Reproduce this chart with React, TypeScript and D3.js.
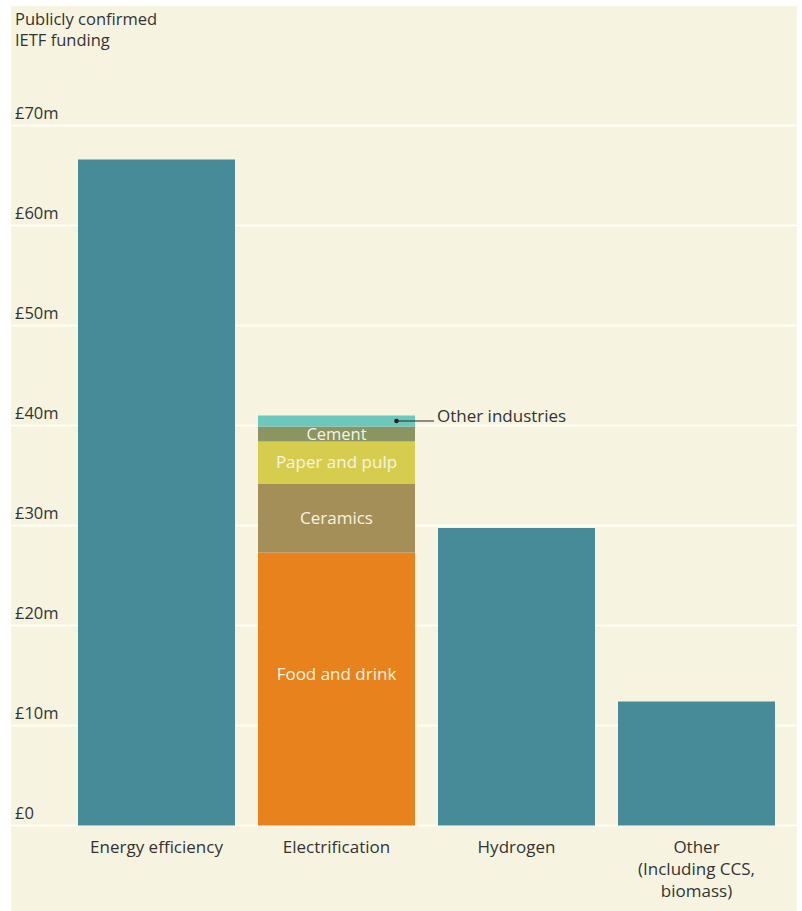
import React from "react";
import * as d3 from "d3";

const categories = ["Energy efficiency", "Electrification", "Hydrogen", "Other"];
const categoryLines = [["Energy efficiency"], ["Electrification"], ["Hydrogen"], ["Other", "(Including CCS,", "biomass)"]];
const singleValues = [66.6, null, 29.75, 12.4];
const segmentNames = ["Food and drink", "Ceramics", "Paper and pulp", "Cement", "Other industries"];
const segmentValues = [27.3, 6.9, 4.2, 1.5, 1.1];
const segmentColors = ["#e8821d", "#a48f59", "#d6cd4f", "#8a9563", "#6cc8bd"];
const tickValues = [0, 10, 20, 30, 40, 50, 60, 70];
const tickLabels = ["£0", "£10m", "£20m", "£30m", "£40m", "£50m", "£60m", "£70m"];

const W = 802;
const H = 911;
const FONT = "'Open Sans', 'Noto Sans', sans-serif";
const TEAL = "#478b99";
const BG = "#f6f4e1";
const FS = 17;

export default function App() {
  React.useEffect(() => {
    document.body.style.margin = "0";
  }, []);
  const y = d3.scaleLinear().domain([0, 70]).range([825.5, 125.5]);
  const x = d3.scaleBand<string>().domain(categories).range([66.5, 786.5]).paddingInner(23 / 180).paddingOuter(23 / 360);
  const bw = x.bandwidth();

  const stacked: { name: string; y0: number; y1: number; color: string }[] = [];
  let acc = 0;
  segmentValues.forEach((v, i) => {
    stacked.push({ name: segmentNames[i], y0: acc, y1: acc + v, color: segmentColors[i] });
    acc += v;
  });

  const elecX = x("Electrification")!;
  const elecC = elecX + bw / 2;

  return (
    <svg width={W} height={H} style={{ display: "block" }} fontFamily={FONT}>
      <rect x={11} y={6} width={786} height={905} fill={BG} />
      {tickValues.map((t, i) => (
        <g key={t}>
          <line x1={11} x2={W} y1={y(t)} y2={y(t)} stroke="#ffffff" strokeWidth={1.5} />
          <text x={15} y={y(t) - 7} fontSize={16.5} fill="#333">{tickLabels[i]}</text>
        </g>
      ))}
      <text x={15} y={25} fontSize={16.5} fill="#333">Publicly confirmed</text>
      <text x={15} y={46} fontSize={16.5} fill="#333">IETF funding</text>
      {categories.map((c, i) =>
        singleValues[i] != null ? (
          <rect key={c} x={x(c)} y={y(singleValues[i] as number)} width={bw} height={y(0) - y(singleValues[i] as number)} fill={TEAL} />
        ) : null
      )}
      {stacked.map((s) => (
        <rect key={s.name} x={elecX} y={y(s.y1)} width={bw} height={y(s.y0) - y(s.y1)} fill={s.color} />
      ))}
      {stacked.slice(0, 4).map((s, i) => {
        const mid = (y(s.y0) + y(s.y1)) / 2;
        const off = i === 0 ? -15 : i === 3 ? 0.5 : 0;
        return (
          <text key={s.name} x={elecC} y={mid + off} dy="0.35em" textAnchor="middle" fontSize={i === 3 ? 16.5 : FS} fill="#f6f4e1">
            {s.name}
          </text>
        );
      })}
      {(() => {
        const s = stacked[4];
        const my = (y(s.y0) + y(s.y1)) / 2;
        return (
          <g>
            <circle cx={396.5} cy={my} r={2.3} fill="#222" />
            <line x1={396.5} x2={434} y1={my} y2={my} stroke="#222" strokeWidth={1.2} />
            <text x={437} y={my - 5} dy="0.35em" fontSize={FS} fill="#333">{s.name}</text>
          </g>
        );
      })()}
      {categories.map((c, i) => (
        <text key={c} x={x(c)! + bw / 2} textAnchor="middle" fontSize={FS} fill="#333">
          {categoryLines[i].map((l, j) => (
            <tspan key={j} x={x(c)! + bw / 2} y={853 + j * 22}>{l}</tspan>
          ))}
        </text>
      ))}
    </svg>
  );
}
